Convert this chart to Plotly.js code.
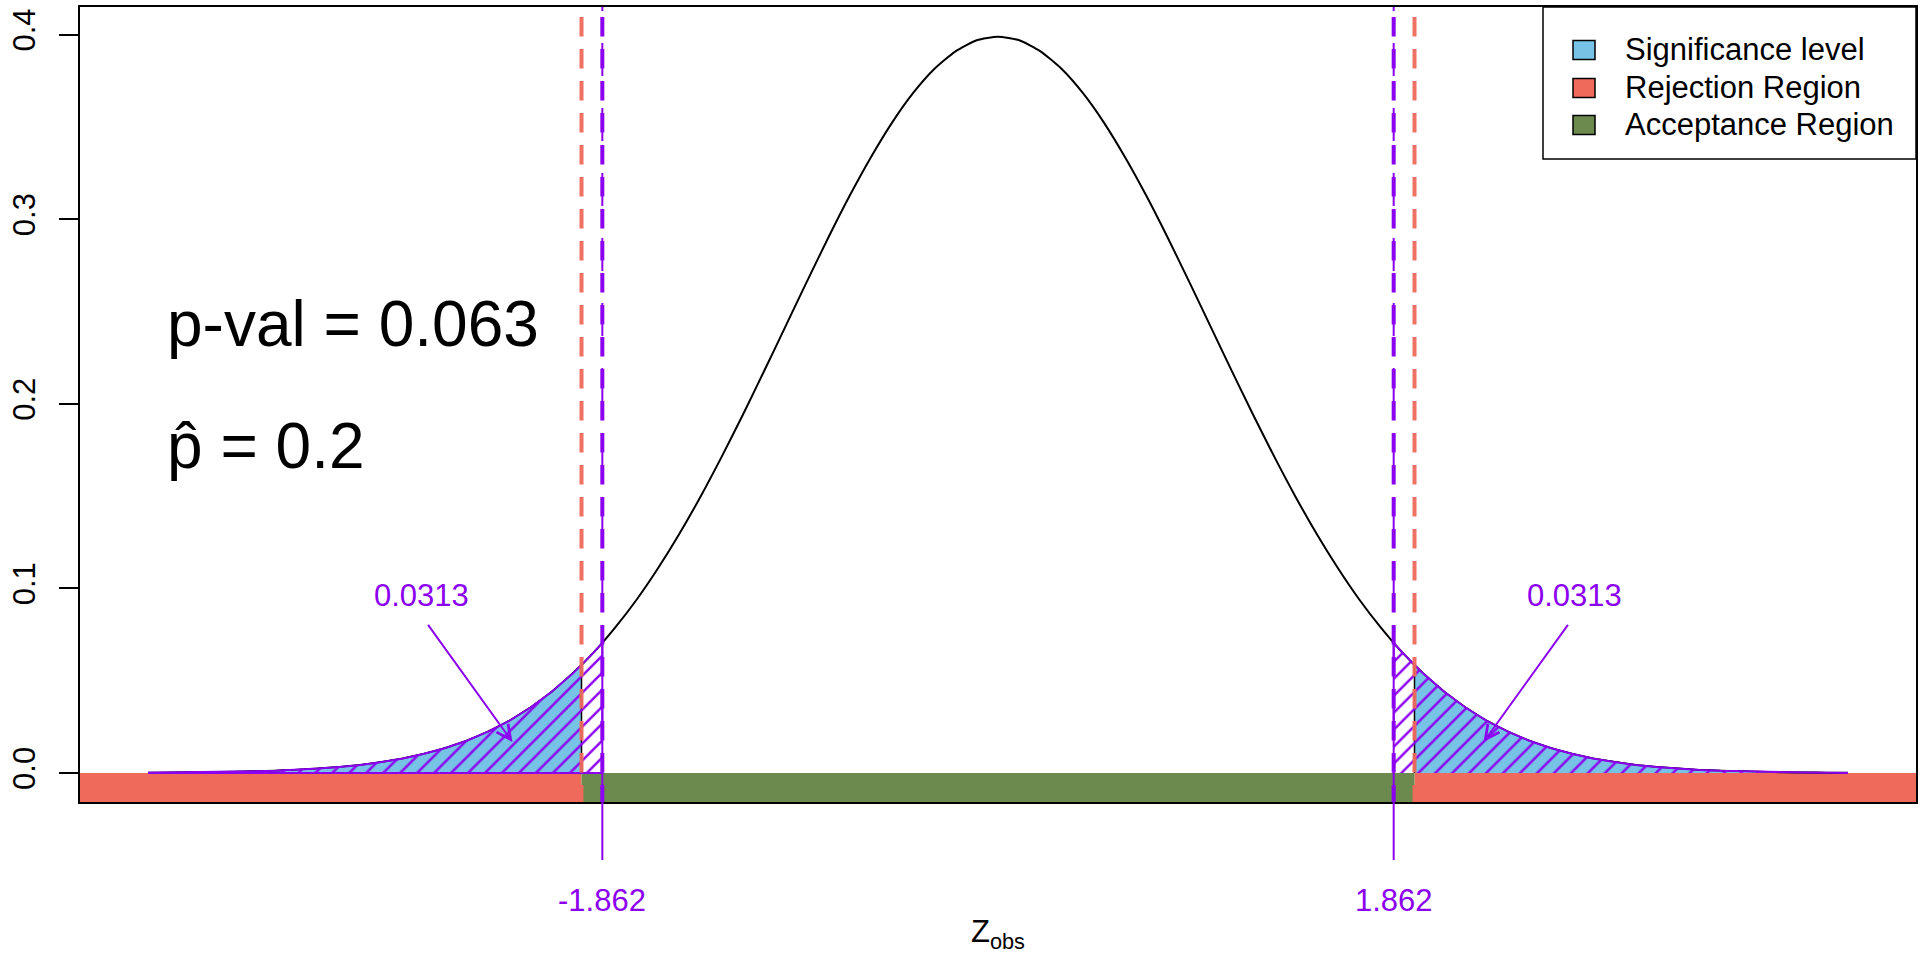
<!DOCTYPE html>
<html>
<head>
<meta charset="utf-8">
<script src="https://cdn.plot.ly/plotly-3.0.1.min.js"></script>
<style>html,body{margin:0;padding:0;background:#fff}#chart{width:1920px;height:960px}</style>
</head>
<body>
<div id="chart"></div>
<script>
// ---------- data ----------
const zGrid = [
  -4.0,-3.9,-3.8,-3.7,-3.6,-3.5,-3.4,-3.3,-3.2,-3.1,
  -3.0,-2.9,-2.8,-2.7,-2.6,-2.5,-2.4,-2.3,-2.2,-2.1,
  -2.0,-1.9,-1.8,-1.7,-1.6,-1.5,-1.4,-1.3,-1.2,-1.1,
  -1.0,-0.9,-0.8,-0.7,-0.6,-0.5,-0.4,-0.3,-0.2,-0.1,
  0.0,
  0.1,0.2,0.3,0.4,0.5,0.6,0.7,0.8,0.9,1.0,
  1.1,1.2,1.3,1.4,1.5,1.6,1.7,1.8,1.9,2.0,
  2.1,2.2,2.3,2.4,2.5,2.6,2.7,2.8,2.9,3.0,
  3.1,3.2,3.3,3.4,3.5,3.6,3.7,3.8,3.9,4.0
];
const density = [
  0.0001,0.0002,0.0003,0.0004,0.0006,0.0009,0.0012,0.0017,0.0024,0.0033,
  0.0044,0.0060,0.0079,0.0104,0.0136,0.0175,0.0224,0.0283,0.0355,0.0440,
  0.0540,0.0656,0.0790,0.0940,0.1109,0.1295,0.1497,0.1714,0.1942,0.2179,
  0.2420,0.2661,0.2897,0.3123,0.3332,0.3521,0.3683,0.3814,0.3910,0.3970,
  0.3989,
  0.3970,0.3910,0.3814,0.3683,0.3521,0.3332,0.3123,0.2897,0.2661,0.2420,
  0.2179,0.1942,0.1714,0.1497,0.1295,0.1109,0.0940,0.0790,0.0656,0.0540,
  0.0440,0.0355,0.0283,0.0224,0.0175,0.0136,0.0104,0.0079,0.0060,0.0044,
  0.0033,0.0024,0.0017,0.0012,0.0009,0.0006,0.0004,0.0003,0.0002,0.0001
];
const zCritical   = [-1.96, 1.96];
const critDensity = [0.0584, 0.0584];
const zObserved   = [-1.862, 1.862];
const obsDensity  = [0.0705, 0.0705];
const obsLabels   = ['-1.862', '1.862'];
const tailProb    = ['0.0313', '0.0313'];
const pValueText  = 'p-val = 0.063';
const pHatText    = 'p\u0302 = 0.2';
const yTickVals   = [0, 0.1, 0.2, 0.3, 0.4];
const yTickText   = ['0.0', '0.1', '0.2', '0.3', '0.4'];
const legendLabels = ['Significance level', 'Rejection Region', 'Acceptance Region'];

// ---------- style ----------
const BLUE = '#76C3E6', RED = '#EF6A5B', GREEN = '#6C8A4E', PURPLE = '#8C00F0';
const FONT = 'Liberation Sans, Arial, Helvetica, sans-serif';
const FS = 31;
const W = 1920, H = 960;
const M = {l: 80, r: 4, t: 7, b: 158};
const xRange = [-4.32, 4.32];
const yRange = [-0.0157, 0.4150];
const plotW = W - M.l - M.r, plotH = H - M.t - M.b;
const pxPerY = plotH / (yRange[1] - yRange[0]);
const px2paperX = px => (px - M.l) / plotW;
const px2paperY = py => (H - M.b - py) / plotH;
const yTopPlus = dpx => yRange[1] + dpx / pxPerY;   // above the top edge (clipped)

// ---------- traces ----------
function tailPolygon(side, cut, cutDens) {
  const xs = [], ys = [];
  if (side < 0) {
    zGrid.forEach((z, i) => { if (z < cut) { xs.push(z); ys.push(density[i]); } });
    xs.push(cut, cut, zGrid[0]); ys.push(cutDens, 0, 0);
  } else {
    xs.push(cut, cut); ys.push(0, cutDens);
    zGrid.forEach((z, i) => { if (z > cut) { xs.push(z); ys.push(density[i]); } });
    xs.push(zGrid[zGrid.length - 1]); ys.push(0);
  }
  return {xs, ys};
}

const traces = [];
traces.push({
  x: zGrid, y: density, type: 'scatter', mode: 'lines',
  line: {color: '#000', width: 2, shape: 'spline', smoothing: 0.6},
  hoverinfo: 'skip', showlegend: false
});
[0, 1].forEach(k => {
  const p = tailPolygon(k === 0 ? -1 : 1, zCritical[k], critDensity[k]);
  traces.push({
    x: p.xs, y: p.ys, type: 'scatter', mode: 'lines', fill: 'toself',
    fillcolor: BLUE, line: {color: '#000', width: 1.5},
    hoverinfo: 'skip', showlegend: false
  });
});
[0, 1].forEach(k => {
  const p = tailPolygon(k === 0 ? -1 : 1, zObserved[k], obsDensity[k]);
  traces.push({
    x: p.xs, y: p.ys, type: 'scatter', mode: 'lines', fill: 'toself',
    fillcolor: 'rgba(0,0,0,0)',
    fillpattern: {shape: '/', size: 12, solidity: 0.2, fgcolor: PURPLE, bgcolor: 'rgba(0,0,0,0)'},
    line: {color: PURPLE, width: 2},
    hoverinfo: 'skip', showlegend: false
  });
});

// ---------- shapes ----------
const shapes = [];
// rejection / acceptance bars
shapes.push({type: 'rect', layer: 'below', xref: 'x', yref: 'y', x0: xRange[0], x1: zCritical[0], y0: yRange[0], y1: 0, fillcolor: RED, line: {width: 0}});
shapes.push({type: 'rect', layer: 'below', xref: 'x', yref: 'y', x0: zCritical[1], x1: xRange[1], y0: yRange[0], y1: 0, fillcolor: RED, line: {width: 0}});
shapes.push({type: 'rect', layer: 'below', xref: 'x', yref: 'y', x0: zCritical[0], x1: zCritical[1], y0: yRange[0], y1: 0, fillcolor: GREEN, line: {width: 0}});
// critical value dashed lines
zCritical.forEach(z => {
  shapes.push({type: 'line', xref: 'x', yref: 'y', x0: z, x1: z, y0: yTopPlus(22), y1: yRange[0],
    line: {color: RED, width: 4, dash: '19.5px,12.5px'}, opacity: 0.95});
});
// observed statistic lines
zObserved.forEach(z => {
  shapes.push({type: 'line', xref: 'x', yref: 'y', x0: z, x1: z, y0: yTopPlus(22), y1: yRange[0],
    line: {color: PURPLE, width: 4, dash: '19.5px,12.5px'}});
  shapes.push({type: 'line', xref: 'x', yref: 'y', x0: z, x1: z, y0: yTopPlus(29), y1: 0,
    line: {color: PURPLE, width: 2, dash: '33px,32px'}});
  shapes.push({type: 'line', xref: 'x', yref: 'paper', x0: z, x1: z,
    y0: (0 - yRange[0]) / (yRange[1] - yRange[0]), y1: px2paperY(860),
    line: {color: PURPLE, width: 2}});
});
// legend (drawn like R's legend box)
const legRows = [50, 88, 125];
const legColors = [BLUE, RED, GREEN];
shapes.push({type: 'rect', xref: 'paper', yref: 'paper', x0: px2paperX(1543), x1: 1, y0: px2paperY(159), y1: 1,
  fillcolor: '#fff', line: {color: '#000', width: 1.5}});
legRows.forEach((ry, i) => {
  shapes.push({type: 'rect', xref: 'paper', yref: 'paper', x0: px2paperX(1573), x1: px2paperX(1595),
    y0: px2paperY(ry + 9.5), y1: px2paperY(ry - 9.5), fillcolor: legColors[i], line: {color: '#000', width: 1.5}});
});

// ---------- annotations ----------
const annotations = [];
annotations.push({xref: 'x', yref: 'y', x: -3.918, y: 0.2430, xanchor: 'left', yanchor: 'middle',
  text: pValueText, showarrow: false, font: {size: 64, color: '#000', family: FONT}});
annotations.push({xref: 'x', yref: 'y', x: -3.918, y: 0.1769, xanchor: 'left', yanchor: 'middle',
  text: pHatText, showarrow: false, font: {size: 64, color: '#000', family: FONT}});
[-1, 1].forEach((s, k) => {
  // tail-area label with its arrow pointing into the shaded tail
  annotations.push({xref: 'x', yref: 'y', x: s * 2.285, y: 0.0168, axref: 'x', ayref: 'y',
    ax: s * 2.715, ay: 0.0855, text: tailProb[k], xanchor: 'center', yanchor: 'bottom',
    showarrow: true, arrowhead: 5, arrowsize: 1.4, arrowwidth: 2, arrowcolor: PURPLE,
    standoff: 0, startstandoff: 12, font: {size: FS, color: PURPLE, family: FONT}});
  annotations.push({xref: 'x', yref: 'paper', x: zObserved[k], y: px2paperY(900), text: obsLabels[k],
    showarrow: false, xanchor: 'center', yanchor: 'middle', font: {size: FS, color: PURPLE, family: FONT}});
});
annotations.push({xref: 'x', yref: 'paper', x: 0, y: px2paperY(934), text: 'Z<sub>obs</sub>',
  showarrow: false, xanchor: 'center', yanchor: 'middle', font: {size: FS, color: '#000', family: FONT}});
legRows.forEach((ry, i) => {
  annotations.push({xref: 'paper', yref: 'paper', x: px2paperX(1623), y: px2paperY(ry), text: legendLabels[i],
    showarrow: false, xanchor: 'left', yanchor: 'middle', font: {size: FS, color: '#000', family: FONT}});
});

const layout = {
  width: W, height: H,
  margin: M,
  paper_bgcolor: '#fff', plot_bgcolor: '#fff',
  font: {family: FONT, size: FS, color: '#000'},
  showlegend: false,
  xaxis: {range: xRange, showgrid: false, zeroline: false, showticklabels: false, ticks: '',
    showline: true, mirror: true, linecolor: '#000', linewidth: 2, fixedrange: true},
  yaxis: {range: yRange, showgrid: false, zeroline: false, tickmode: 'array',
    tickvals: yTickVals, ticktext: yTickText, ticks: 'outside', ticklen: 19, tickwidth: 2, tickcolor: '#000',
    tickangle: -90, tickfont: {size: FS, family: FONT, color: '#000'}, ticklabelstandoff: 12,
    showline: true, mirror: true, linecolor: '#000', linewidth: 2, fixedrange: true},
  shapes: shapes,
  annotations: annotations
};

Plotly.newPlot('chart', traces, layout, {displayModeBar: false, staticPlot: true});
</script>
</body>
</html>
